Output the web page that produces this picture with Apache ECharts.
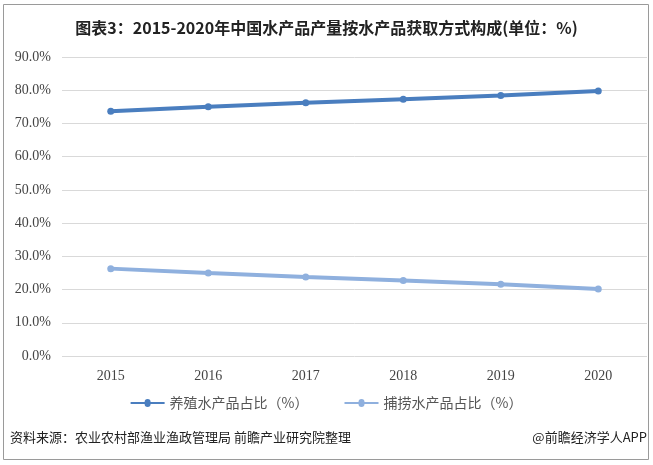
<!DOCTYPE html>
<html><head><meta charset="utf-8">
<script src="https://cdn.jsdelivr.net/npm/echarts@6/dist/echarts.min.js"></script>
<style>html,body{margin:0;padding:0;background:#fff}#c{width:653px;height:465px}</style>
</head><body><div id="c"></div>
<script>
const years = ['2015','2016','2017','2018','2019','2020'];
const aquaculture = [73.7, 75.0, 76.2, 77.3, 78.4, 79.8];
const fishing = [26.3, 25.0, 23.8, 22.7, 21.6, 20.2];
const seriesNames = ['养殖水产品占比（%）', '捕捞水产品占比（%）'];
const titleText = '图表3：2015-2020年中国水产品产量按水产品获取方式构成(单位：%)';
const sourceText = '资料来源：农业农村部渔业渔政管理局 前瞻产业研究院整理';
const creditText = '@前瞻经济学人APP';

const chart = echarts.init(document.getElementById('c'));
chart.setOption({
  animation: false,
  backgroundColor: '#fff',
  title: {
    text: titleText, left: 'center', top: 15,
    textStyle: {fontFamily: 'Noto Sans CJK SC', fontWeight: 'bold', fontSize: 16, color: '#222'}
  },
  graphic: [
    {type: 'rect', shape: {x: 3.5, y: 4.5, width: 645, height: 455}, style: {fill: 'none', stroke: '#9a9a9a', lineWidth: 1}},
    {type: 'text', left: 10, top: 431, style: {text: sourceText, font: '13px "Noto Sans CJK SC"', fill: '#222'}},
    {type: 'text', right: 6, top: 431, style: {text: creditText, font: '13px "Noto Sans CJK SC"', fill: '#222'}}
  ],
  legend: {
    bottom: 50, left: 'center', itemWidth: 34, itemHeight: 10, itemGap: 36,
    icon: 'path://M0,4L14,4A3,3,0,0,1,20,4L34,4L34,6L20,6A3,3,0,0,1,14,6L0,6Z',
    textStyle: {fontFamily: 'Noto Sans CJK SC', fontSize: 14, color: '#555'},
    data: seriesNames
  },
  grid: {left: 62, right: 6, top: 57, bottom: 109},
  xAxis: {
    type: 'category', data: years, boundaryGap: true,
    axisLine: {show: false}, axisTick: {show: false},
    axisLabel: {fontFamily: 'Liberation Serif', fontSize: 14, color: '#444', margin: 13}
  },
  yAxis: {
    type: 'value', min: 0, max: 90, interval: 10,
    axisLabel: {formatter: v => v.toFixed(1) + '%', fontFamily: 'Liberation Serif', fontSize: 14, color: '#444', margin: 11},
    splitLine: {lineStyle: {color: '#d9d9d9'}},
    axisLine: {show: false}, axisTick: {show: false}
  },
  series: [
    {name: seriesNames[0], type: 'line', data: aquaculture, symbol: 'circle', symbolSize: 7,
     lineStyle: {width: 4, color: '#4a7ebf'}, itemStyle: {color: '#4a7ebf'}},
    {name: seriesNames[1], type: 'line', data: fishing, symbol: 'circle', symbolSize: 7,
     lineStyle: {width: 4, color: '#8fb0de'}, itemStyle: {color: '#8fb0de'}}
  ]
});
</script></body></html>
